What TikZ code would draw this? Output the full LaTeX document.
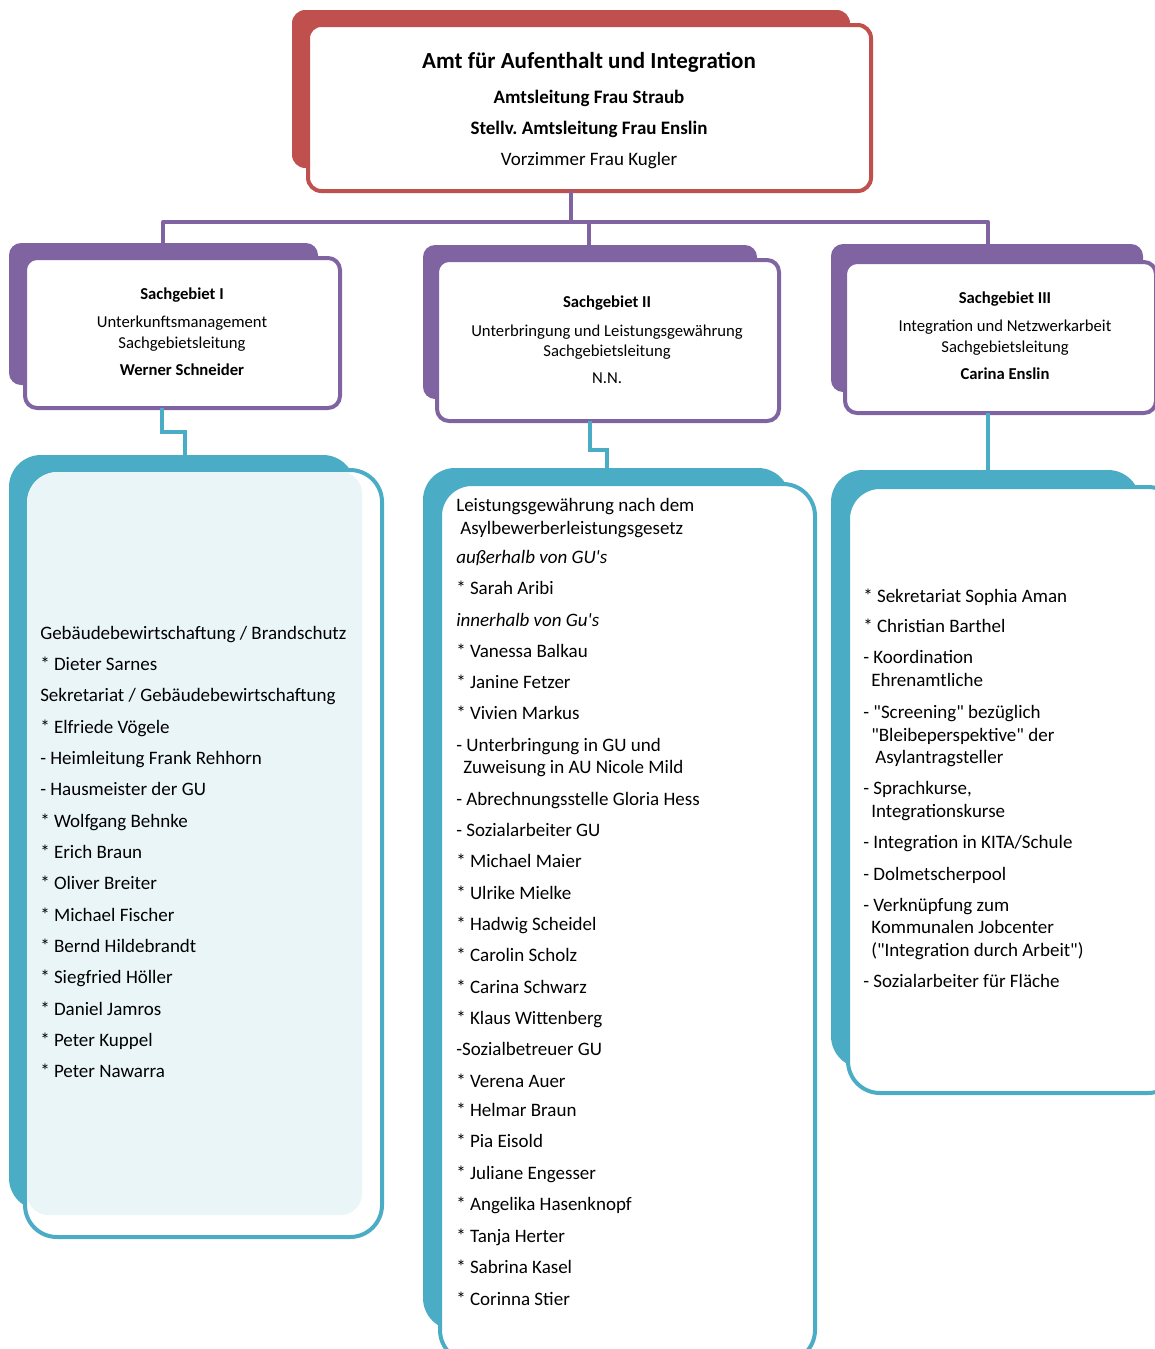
\documentclass[tikz,border=0pt]{standalone}
\usepackage{fontspec}
\setmainfont{Carlito}[Ligatures=TeXOff]
\usetikzlibrary{fit}
\definecolor{ored}{HTML}{C0504D}
\definecolor{opurple}{HTML}{8064A2}
\definecolor{oteal}{HTML}{4BACC6}
\definecolor{lteal}{HTML}{EAF5F8}
\frenchspacing
\begin{document}
\begin{tikzpicture}[x=0.75pt,y=-0.75pt,
  box/.style={inner sep=0pt, outer sep=0pt, rectangle},
  frontbox/.style={box, draw=#1, fill=white, line width=3pt},
  conn/.style={line width=3pt, draw=#1},
  tt/.style={anchor=base, inner sep=0pt},
  big/.style={tt, font=\bfseries\fontsize{17.25pt}{20pt}\selectfont},
  mid/.style={tt, font=\fontsize{14.25pt}{17pt}\selectfont},
  midb/.style={tt, font=\bfseries\fontsize{14.25pt}{17pt}\selectfont},
  sm/.style={tt, font=\fontsize{12.5pt}{15pt}\selectfont},
  smb/.style={tt, font=\bfseries\fontsize{12.5pt}{15pt}\selectfont},
  lst/.style={anchor=base west, inner sep=0pt, font=\fontsize{14.25pt}{17pt}\selectfont},
  lsti/.style={lst, font=\itshape\fontsize{14.25pt}{17pt}\selectfont},
]
\useasboundingbox (0,0) rectangle (1155,1349);

% ---------- connector corner points
\coordinate (ht) at (571,222);
\coordinate (hl) at (163,222);
\coordinate (hm) at (589,222);
\coordinate (hr) at (988,222);
\coordinate (k1) at (162,432);
\coordinate (k1b) at (185,432);
\coordinate (k2) at (590,450);
\coordinate (k2b) at (607,450);
\coordinate (k3) at (988,440);

% ---------- top box
\node[box, fill=ored, rounded corners=10pt, fit={(292,10) (850,168)}] (topb) {};
\node[frontbox=ored, rounded corners=10pt, fit={(308,25) (871,191)}] (top) {};

% ---------- Sachgebiet boxes
\node[box, fill=opurple, rounded corners=9pt, fit={(9,243) (318,385)}] (s1b) {};
\node[box, fill=opurple, rounded corners=9pt, fit={(423,245) (757,399)}] (s2b) {};
\node[box, fill=opurple, rounded corners=9pt, fit={(831,244) (1143,392)}] (s3b) {};

\draw[conn=opurple] (ht |- top.south) -- (ht);
\draw[conn=opurple, line join=round] (hl |- s1b.north) -- (hl) -- (hr) -- (hr |- s3b.north);
\draw[conn=opurple] (hm) -- (hm |- s2b.north);

\node[frontbox=opurple, rounded corners=9pt, fit={(25,258) (340,408)}] (s1) {};
\node[frontbox=opurple, rounded corners=9pt, fit={(437,260) (779,421)}] (s2) {};
\node[frontbox=opurple, rounded corners=9pt, fit={(845,262) (1156,413)}] (s3) {};

% ---------- list boxes
\node[box, fill=oteal, rounded corners=24pt, fit={(9,455) (355,1210)}] (l1b) {};
\node[box, fill=oteal, rounded corners=24pt, fit={(423,468) (790,1330)}] (l2b) {};
\node[box, fill=oteal, rounded corners=24pt, fit={(831,470) (1140,1068)}] (l3b) {};

\draw[conn=oteal] (k1 |- s1.south) -- (k1) -- (k1b) -- (k1b |- l1b.north);
\draw[conn=oteal] (k2 |- s2.south) -- (k2) -- (k2b) -- (k2b |- l2b.north);
\draw[conn=oteal] (k3 |- s3.south) -- (k3 |- l3b.north);

\node[frontbox=oteal, rounded corners=24pt, fit={(25,470) (382,1237)}] (l1) {};
\begin{scope}
  \clip[rounded corners=24pt] (27,472) rectangle (380,1235);
  \fill[lteal, rounded corners=16pt] (27,472) rectangle (362,1215);
\end{scope}
\node[frontbox=oteal, rounded corners=24pt, fit={(440,484) (815,1362)}] (l2) {};
\node[frontbox=oteal, rounded corners=24pt, fit={(848,487) (1180,1093)}] (l3) {};

% ---------- top texts
\node[big] (tA) at (589,68) {Amt für Aufenthalt und Integration};
\node[midb] (tB) at (589,103) {Amtsleitung Frau Straub};
\node[midb] (tC) at (589,134) {Stellv. Amtsleitung Frau Enslin};
\node[mid] (tD) at (589,165) {Vorzimmer Frau Kugler};

% ---------- Sachgebiet texts
\node[smb] (a1) at (182,299) {Sachgebiet I};
\node[sm]  (a2) at (182,327) {Unterkunftsmanagement};
\node[sm]  (a3) at (182,348) {Sachgebietsleitung};
\node[smb] (a4) at (182,375) {Werner Schneider};

\node[smb] (b1) at (607,307) {Sachgebiet II};
\node[sm]  (b2) at (607,336) {Unterbringung und Leistungsgewährung};
\node[sm]  (b3) at (607,356) {Sachgebietsleitung};
\node[sm]  (b4) at (607,383) {N.N.};

\node[smb] (c1) at (1005,303) {Sachgebiet III};
\node[sm]  (c2) at (1005,331) {Integration und Netzwerkarbeit};
\node[sm]  (c3) at (1005,352) {Sachgebietsleitung};
\node[smb] (c4) at (1005,379) {Carina Enslin};

% ---------- list I
\foreach \s [count=\i] in {{Gebäudebewirtschaftung / Brandschutz},{* Dieter Sarnes},{Sekretariat / Gebäudebewirtschaftung},{* Elfriede Vögele},{- Heimleitung Frank Rehhorn},{- Hausmeister der GU},{* Wolfgang Behnke},{* Erich Braun},{* Oliver Breiter},{* Michael Fischer},{* Bernd Hildebrandt},{* Siegfried Höller},{* Daniel Jamros},{* Peter Kuppel},{* Peter Nawarra}}
  \node[lst] (p\i) at (40,{639+(\i-1)*31.35}) {\s};

% ---------- list II
\node[lst] (q1) at (456,511) {Leistungsgewährung nach dem};
\node[lst] (q2) at (460,534) {Asylbewerberleistungsgesetz};
\node[lsti] (q3) at (456,563) {außerhalb von GU's};
\node[lst] (q4) at (456,594) {* Sarah Aribi};
\node[lsti] (q5) at (456,626) {innerhalb von Gu's};
\node[lst] (q6) at (456,657) {* Vanessa Balkau};
\node[lst] (q7) at (456,688) {* Janine Fetzer};
\node[lst] (q8) at (456,719) {* Vivien Markus};
\node[lst] (q9) at (456,751) {- Unterbringung in GU und};
\node[lst] (q10) at (463,773) {Zuweisung in AU Nicole Mild};
\node[lst] (q11) at (456,805) {- Abrechnungsstelle Gloria Hess};
\node[lst] (q12) at (456,836) {- Sozialarbeiter GU};
\node[lst] (q13) at (456,867) {* Michael Maier};
\node[lst] (q14) at (456,899) {* Ulrike Mielke};
\node[lst] (q15) at (456,930) {* Hadwig Scheidel};
\node[lst] (q16) at (456,961) {* Carolin Scholz};
\node[lst] (q17) at (456,993) {* Carina Schwarz};
\node[lst] (q18) at (456,1024) {* Klaus Wittenberg};
\node[lst] (q19) at (456,1055) {-Sozialbetreuer GU};
\node[lst] (q20) at (456,1087) {* Verena Auer};
\node[lst] (q21) at (456,1116) {* Helmar Braun};
\node[lst] (q22) at (456,1147) {* Pia Eisold};
\node[lst] (q23) at (456,1179) {* Juliane Engesser};
\node[lst] (q24) at (456,1210) {* Angelika Hasenknopf};
\node[lst] (q25) at (456,1242) {* Tanja Herter};
\node[lst] (q26) at (456,1273) {* Sabrina Kasel};
\node[lst] (q27) at (456,1305) {* Corinna Stier};

% ---------- list III
\node[lst] (r1) at (863,602) {* Sekretariat Sophia Aman};
\node[lst] (r2) at (863,632) {* Christian Barthel};
\node[lst] (r3) at (863,663) {- Koordination};
\node[lst] (r4) at (871,686) {Ehrenamtliche};
\node[lst] (r5) at (863,718) {- "Screening" bezüglich};
\node[lst] (r6) at (871,741) {"Bleibeperspektive" der};
\node[lst] (r7) at (875,763) {Asylantragsteller};
\node[lst] (r8) at (863,794) {- Sprachkurse,};
\node[lst] (r9) at (871,817) {Integrationskurse};
\node[lst] (r10) at (863,848) {- Integration in KITA/Schule};
\node[lst] (r11) at (863,880) {- Dolmetscherpool};
\node[lst] (r12) at (863,911) {- Verknüpfung zum};
\node[lst] (r13) at (871,933) {Kommunalen Jobcenter};
\node[lst] (r14) at (871,956) {("Integration durch Arbeit")};
\node[lst] (r15) at (863,987) {- Sozialarbeiter für Fläche};
\end{tikzpicture}
\end{document}
